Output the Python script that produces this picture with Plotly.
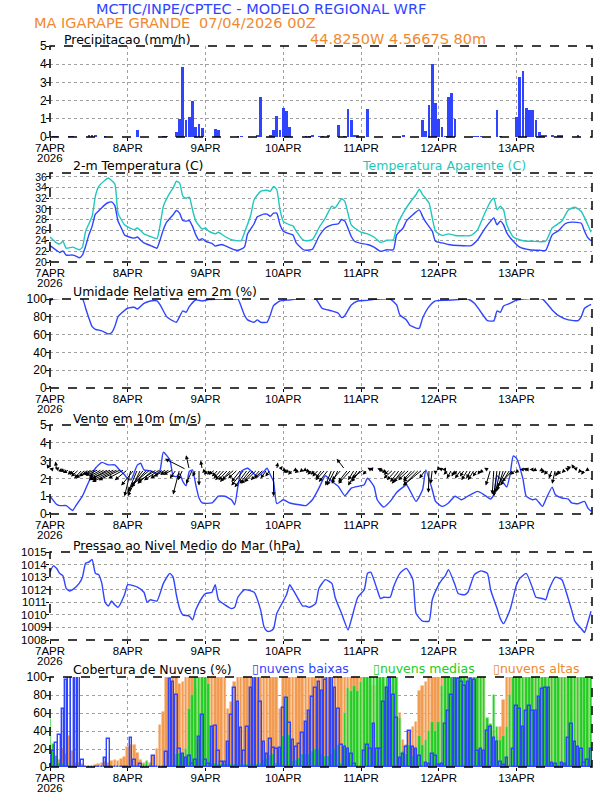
import plotly.graph_objects as go

# ---------------- DATA ----------------
day_ticks = [0, 24, 48, 72, 96, 120, 144]
day_labels = ["7APR", "8APR", "9APR", "10APR", "11APR", "12APR", "13APR"]
year_label = "2026"

precip_h = [1, 2, 6, 7, 12, 13, 14, 17, 27, 35, 36, 39, 40, 41, 42, 43, 44, 45, 46, 47, 51, 52, 58, 59, 64, 65, 68, 69, 70,
            71, 72, 73, 74, 79, 80, 81, 83, 84, 86, 89, 91, 92, 93, 94, 95, 98, 109, 115, 116, 117, 118, 119, 120, 121,
            122, 123, 124, 125, 131, 132, 133, 138, 139, 144, 145, 146, 147, 148, 149, 150, 151, 152, 153, 155, 157, 158, 163]
precip_v = [0.03, 0.03, 0.03, 0.03, 0.06, 0.06, 0.06, 0.04, 0.37, 0.03, 0.03, 0.25, 1.0, 3.85, 0.95, 1.1, 2.0, 0.55, 0.7,
            0.5, 0.45, 0.38, 0.03, 0.03, 0.12, 2.2, 0.12, 0.38, 1.15, 0.4, 1.6, 1.45, 0.55, 0.05, 0.05, 0.08, 0.05, 0.05,
            0.06, 0.65, 0.05, 1.55, 0.95, 0.08, 0.08, 1.55, 0.08, 0.95, 0.32, 1.75, 4.0, 1.85, 1.0, 0.55, 0.05, 2.2, 2.4,
            1.0, 0.04, 0.04, 0.04, 1.5, 0.05, 1.1, 3.3, 3.65, 1.6, 1.5, 1.5, 0.95, 0.3, 0.08, 0.06, 0.08, 0.06, 0.06, 0.08]

temp_h = [0, 2, 3, 4, 5, 7, 8, 9, 10, 11, 12, 13, 14, 15, 17, 18, 19, 20, 21, 22, 23, 24, 26, 27, 28, 29, 31, 33, 34, 35,
          36, 38, 39, 40, 41, 42, 43, 44, 45, 46, 47, 48, 50, 51, 53, 55, 57, 58, 60, 61, 63, 64, 66, 67, 68, 69, 70, 71,
          72, 74, 75, 76, 78, 79, 81, 83, 85, 87, 89, 90, 91, 93, 94, 96, 98, 100, 102, 104, 106, 107, 109, 110, 112, 114,
          115, 116, 118, 119, 121, 123, 126, 130, 132, 134, 136, 137, 138, 139, 140, 141, 143, 145, 148, 151, 153, 155,
          157, 159, 161, 164, 165, 166, 167]
temp_v = [23.1, 22.2, 21.8, 22.1, 21.3, 21.3, 21.1, 20.8, 21.3, 23.0, 25.1, 26.7, 29.0, 29.6, 30.8, 31.2, 31.3, 30.6,
          27.7, 26.4, 25.1, 24.8, 24.5, 24.7, 24.1, 23.6, 23.1, 22.6, 24.2, 26.1, 27.5, 28.9, 29.7, 29.2, 27.8, 27.7, 27.8,
          26.7, 25.1, 24.1, 24.4, 23.9, 23.5, 23.0, 23.3, 22.8, 22.3, 22.2, 22.8, 25.3, 27.2, 28.5, 29.0, 29.0, 28.6, 29.2,
          29.2, 27.0, 25.8, 25.3, 25.1, 23.6, 22.4, 22.2, 22.4, 24.8, 26.4, 27.0, 27.2, 28.0, 27.7, 24.8, 23.9, 23.5, 23.3,
          22.8, 22.0, 22.3, 22.3, 25.1, 26.4, 27.7, 28.9, 29.8, 28.6, 27.5, 25.8, 23.9, 23.6, 23.3, 23.1, 23.1, 24.2, 26.1,
          27.7, 28.3, 27.0, 27.7, 27.0, 25.5, 23.9, 22.8, 22.3, 22.2, 22.2, 25.1, 25.9, 27.2, 27.5, 27.3, 25.8, 24.6, 24.0]

tapp_h = [0, 2, 3, 4, 5, 7, 9, 10, 11, 13, 14, 15, 17, 18, 20, 21, 23, 24, 26, 27, 29, 31, 33, 34, 35, 37, 38, 39, 40, 41,
          42, 43, 44, 45, 47, 48, 49, 51, 52, 54, 56, 59, 60, 62, 63, 65, 67, 68, 69, 70, 71, 72, 74, 75, 76, 78, 79, 81,
          83, 85, 87, 88, 90, 91, 93, 96, 98, 100, 102, 104, 106, 107, 109, 111, 113, 114, 115, 117, 118, 119, 121, 123,
          125, 130, 132, 134, 136, 137, 138, 139, 140, 141, 143, 146, 149, 153, 155, 158, 160, 162, 164, 166, 167]
tapp_v = [24.7, 23.6, 23.4, 23.9, 22.6, 22.8, 22.3, 22.8, 25.8, 28.6, 32.4, 34.2, 35.4, 35.8, 34.7, 29.2, 27.0, 26.6,
          26.1, 26.4, 25.3, 24.8, 24.4, 27.0, 30.5, 33.0, 33.9, 35.2, 34.9, 32.4, 32.0, 32.2, 29.8, 27.7, 26.2, 26.4, 25.8,
          25.3, 25.6, 24.8, 24.2, 24.0, 25.5, 28.9, 31.7, 33.3, 33.5, 33.3, 34.2, 33.6, 29.8, 27.7, 27.0, 26.8, 25.8, 24.2,
          24.0, 24.2, 26.4, 28.3, 30.5, 30.2, 31.9, 31.4, 27.0, 25.6, 25.3, 24.7, 23.7, 24.1, 24.2, 26.7, 29.2, 31.1, 32.7,
          33.7, 32.7, 31.1, 28.3, 25.8, 25.0, 25.3, 25.0, 25.0, 26.1, 28.9, 31.4, 32.0, 29.8, 30.5, 29.8, 27.0, 24.7, 24.0,
          23.9, 23.9, 26.4, 27.7, 29.8, 30.3, 29.5, 27.0, 25.6]

rh_h = [0, 1, 10, 11, 13, 14, 16, 18, 19, 20, 21, 22, 24, 26, 27, 29, 31, 33, 34, 36, 38, 39, 41, 42, 43, 45, 47, 49, 52,
        57, 58, 60, 61, 63, 64, 65, 67, 68, 69, 71, 74, 76, 82, 84, 87, 89, 90, 91, 93, 95, 98, 100, 102, 105, 107, 108,
        110, 111, 113, 114, 115, 117, 119, 122, 126, 129, 131, 134, 135, 137, 138, 139, 140, 142, 144, 146, 152, 155, 157,
        160, 163, 164, 165, 167]
rh_v = [97.8, 100, 100, 89.6, 69, 66, 64.2, 60.8, 62, 69, 80.2, 84, 89.6, 90.7, 88.8, 95.1, 97.8, 97.8, 93.3, 80.2, 75.4,
        73.9, 86.6, 85, 91.4, 98.9, 97.8, 99.3, 99.6, 100, 100, 82, 76.5, 73.9, 76.5, 73.9, 73.9, 82, 92.5, 97.8, 98.9, 100,
        100, 89.6, 86.6, 84, 79.1, 81.3, 93.3, 97.8, 98.5, 99.6, 100, 100, 93.3, 82, 76.5, 70.9, 67.2, 67.2, 78.4, 91.4,
        97.8, 98.5, 99.3, 100, 95.1, 80.2, 75.7, 75.4, 86.6, 85, 92.2, 95.1, 98.9, 100, 100, 87.7, 81.3, 76.5, 75.7, 80.2,
        89.6, 94]

wspd_h = [0, 2, 3, 5, 7, 8, 10, 12, 14, 16, 18, 20, 21, 23, 24, 25, 27, 28, 29, 31, 33, 34, 35, 37, 38, 39, 40, 41, 42,
          43, 44, 45, 46, 47, 50, 52, 54, 56, 57, 58, 59, 61, 62, 64, 66, 67, 68, 69, 70, 72, 74, 77, 79, 81, 83, 85, 87,
          89, 91, 93, 95, 97, 98, 100, 101, 103, 105, 107, 109, 110, 111, 113, 115, 116, 118, 119, 121, 123, 125, 127,
          129, 132, 134, 136, 137, 138, 140, 141, 142, 143, 144, 146, 147, 149, 150, 152, 153, 155, 156, 158, 160, 161,
          163, 165, 166, 167]
wspd_v = [1.0, 0.55, 0.47, 0.47, 0.2, 0.47, 1.0, 1.83, 2.57, 2.9, 2.76, 2.76, 2.57, 2.2, 1.98, 1.92, 2.76, 2.85, 2.48,
          2.43, 2.26, 2.48, 3.47, 3.04, 2.15, 2.1, 2.26, 1.83, 1.59, 2.39, 2.48, 1.64, 0.9, 0.62, 0.62, 1.0, 1.0, 0.8, 0.52,
          1.55, 2.39, 2.57, 2.43, 2.1, 2.39, 2.57, 2.2, 1.83, 0.58, 0.8, 0.62, 0.52, 0.47, 0.8, 1.45, 2.15, 1.83, 1.55,
          1.03, 1.45, 1.55, 1.64, 2.01, 1.55, 0.8, 0.39, 0.71, 1.21, 1.51, 1.64, 1.36, 0.71, 1.36, 2.48, 1.36, 0.71, 0.43,
          0.62, 1.0, 0.8, 1.0, 1.27, 1.08, 0.84, 1.08, 2.15, 1.74, 1.51, 2.2, 3.26, 3.13, 1.96, 1.0, 0.8, 0.84, 0.43, 0.8,
          1.51, 1.08, 0.9, 0.84, 0.62, 0.58, 0.71, 0.34, 0.15]

# wind vectors (hourly), drawn from the 2.5 m/s baseline
wind_u = [-1, -1.2, -0.3, -1.5, -1.5, -2, -2, -1.5, -2, -2.5, -2.5, -3, -3, -3, -3.5, -4, -4, -5, -6, -6,
          -7, -8, -7, -5, -4, -2, -4, -3, -4, -5, -5, -6, -5, -6, -5, -4, -4, -3, -3, -2,
          -2, -1.5, -6.5, -1, -2, -1, 0, -0.5, -1, -1.5, -1.5, -2, -2, -2.5, -3, -3, -3.5, -4, -3, -3,
          -4, -4, -3.5, -4, -4, -3, -3, -2, -1.5, 0, 0.3, 0.8, 1, -1, -1.5, -1.5, -1, -1.5, -1, -1,
          -1, -1.5, -1.5, -2, -2, -3, -3, -2, -2.5, -2, -3, -2.5, -3, -4, -2, -3, -3, -4, -1.5, -1,
          -1.5, -0.5, -1, -1.5, -1.5, -2, -3, -3, -3, -3.5, -4, -3.5, -3, -4, -5, -6, -2, -0.2, -0.5, 0,
          -0.3, -1, -1, -1.5, -1.5, -1, -1.5, -2, -1.5, -2, -1.5, -2, -1.5, -1, -1.5, -1, -1.5, -0.5, -1, -1.5,
          -2, -3, -3, -3.5, -2, -1.5, -1, -1, -1.5, -1, -1, -0.5, -1, -1.5, -1.5, -1, -1, -1, -1.5, -1,
          -1, -1.5, -1, -1.5, -1, -1, -0.8, -0.5]
wind_v = [0.3, 0.05, 0.45, 0.1, -0.1, -0.1, -0.2, -0.3, -0.3, -0.4, -0.5, -0.5, -0.4, -0.3, -0.3, -0.35, -0.4, -0.5, -0.6, -0.5,
          -0.6, -0.7, -0.6, -0.5, -0.6, -1.5, -0.9, -1.3, -1.5, -1.2, -1.0, -0.9, -0.8, -0.7, -0.6, -0.5, -0.4, -0.3, -0.3, -0.5,
          -1.4, -0.6, 0.6, 0.8, -0.8, -0.4, -0.9, 0.5, -0.2, -0.3, -0.3, -0.3, -0.4, -0.5, -0.6, -0.6, -0.7, -0.6, -0.5, -0.7,
          -0.9, -1.0, -0.8, -0.8, -0.7, -0.6, -0.5, -0.5, -0.4, -1.5, 0.4, 0.2, -0.1, -0.2, -0.2, -0.3, -0.1, -0.2, -0.15, -0.1,
          -0.2, -0.3, -0.3, -0.4, -0.5, -0.6, -0.7, -0.9, -0.9, -0.8, -0.6, 0.6, -0.7, -0.8, -0.6, -0.9, -0.7, -0.5, -0.3, 0.1,
          0.05, 0.1, 0.05, -0.1, -0.2, -0.3, -0.5, -0.6, -0.7, -0.8, -0.7, -0.6, -0.6, -0.7, -0.9, -0.9, -0.5, -1.3, -0.8, -0.3,
          0.2, 0.1, 0, -0.3, -0.5, -0.4, -0.3, -0.5, -0.4, -0.6, -0.5, -0.6, -0.4, -0.3, -0.2, 0.1, -0.9, -1.4, -1.5, -1.3,
          -1.2, -1.0, -0.9, -0.7, -0.3, -0.2, 0, 0.05, 0, 0, -0.1, 0, -0.1, -0.2, -0.3, -0.5, -0.8, -0.4, -0.3, -0.2,
          0.1, 0.2, 0.3, 0.1, -0.2, -0.3, -0.1, 0]

pres_h = [0, 1, 2, 3, 4, 5, 6, 7, 9, 10, 11, 12, 13, 14, 15, 16, 17, 18, 19, 20, 21, 23, 24, 26, 27, 29, 30, 31, 33, 35,
          37, 38, 39, 40, 41, 43, 44, 45, 47, 48, 50, 51, 52, 54, 56, 57, 58, 60, 63, 65, 66, 67, 68, 69, 70, 73, 74, 75,
          77, 78, 79, 80, 82, 83, 85, 87, 88, 90, 92, 93, 95, 97, 98, 99, 101, 102, 103, 105, 106, 108, 110, 112, 113, 115,
          117, 118, 120, 121, 122, 123, 125, 126, 128, 129, 131, 133, 135, 136, 138, 139, 140, 142, 144, 145, 147, 149,
          150, 152, 153, 154, 156, 158, 159, 161, 162, 164, 165, 166, 167]
pres_v = [1013.4, 1013.9, 1013.7, 1013.3, 1013.1, 1012.1, 1011.9, 1012.0, 1012.5, 1013.0, 1014.1, 1014.2, 1014.4, 1013.3,
          1013.2, 1012.5, 1011.0, 1010.7, 1011.1, 1010.8, 1010.6, 1011.6, 1012.4, 1012.3, 1012.2, 1011.8, 1011.0, 1011.2,
          1011.1, 1012.5, 1013.3, 1013.0, 1011.6, 1010.5, 1010.0, 1009.9, 1009.6, 1010.4, 1011.4, 1011.7, 1011.8, 1012.4,
          1011.2, 1010.8, 1010.5, 1010.6, 1011.4, 1012.0, 1011.8, 1010.4, 1009.1, 1008.7, 1008.7, 1008.9, 1010.1, 1011.6,
          1012.4, 1012.0, 1011.1, 1010.7, 1010.7, 1010.6, 1010.9, 1012.1, 1012.8, 1012.5, 1011.4, 1010.1, 1008.8, 1009.6,
          1011.4, 1012.0, 1013.3, 1013.4, 1012.0, 1011.3, 1011.4, 1011.4, 1012.2, 1013.3, 1013.7, 1012.8, 1010.1, 1009.5,
          1009.5, 1011.2, 1012.4, 1012.8, 1013.1, 1013.6, 1012.4, 1011.7, 1011.6, 1011.8, 1013.2, 1013.5, 1013.3, 1012.0,
          1010.5, 1009.7, 1009.3, 1010.4, 1012.4, 1012.9, 1013.3, 1012.1, 1011.4, 1011.3, 1011.2, 1012.0, 1013.0, 1012.8,
          1012.1, 1010.4, 1009.5, 1008.9, 1008.6, 1009.4, 1010.3]

cloud_low = [12, 18, 27, 36, 64, 97, 100, 100, 100, 100, 8, 0, 0, 0, 0, 0, 0, 10, 31, 0,
             0, 0, 0, 0, 0, 32, 8, 0, 3, 0, 0, 0, 12, 0, 0, 0, 17, 98, 94, 80,
             20, 15, 10, 12, 3, 8, 33, 58, 8, 3, 45, 46, 18, 6, 6, 28, 58, 88, 72, 43,
             18, 45, 88, 100, 100, 72, 28, 15, 31, 21, 20, 21, 66, 77, 49, 30, 22, 26, 38, 50,
             62, 78, 88, 95, 85, 97, 100, 100, 88, 65, 25, 22, 20, 15, 3, 0, 0, 18, 25, 20,
             48, 20, 20, 72, 88, 100, 80, 55, 10, 15, 22, 40, 22, 20, 12, 0, 5, 3, 15, 12,
             2, 3, 48, 62, 80, 100, 98, 95, 90, 95, 98, 97, 18, 20, 18, 40, 45, 32, 28, 6,
             2, 10, 0, 20, 68, 65, 45, 62, 68, 62, 62, 78, 87, 88, 88, 5, 3, 0, 5, 3,
             32, 48, 28, 22, 20, 5, 8, 20]
cloud_mid = [53, 26, 12, 5, 3, 2, 2, 0, 0, 0, 0, 0, 0, 0, 0, 0, 0, 0, 0, 0,
             0, 0, 0, 0, 0, 0, 0, 0, 0, 3, 7, 2, 0, 0, 0, 0, 0, 0, 2, 15,
             16, 15, 20, 65, 80, 100, 100, 100, 100, 92, 5, 4, 3, 3, 3, 3, 3, 3, 3, 3,
             3, 3, 3, 3, 3, 5, 8, 10, 13, 15, 4, 5, 35, 77, 36, 7, 8, 10, 15, 15,
             15, 18, 20, 20, 15, 12, 12, 15, 20, 25, 5, 60, 88, 85, 90, 85, 95, 100, 100, 100,
             100, 100, 100, 100, 100, 100, 100, 100, 55, 18, 15, 25, 12, 20, 35, 25, 30, 40, 50, 40,
             50, 90, 100, 100, 100, 100, 100, 100, 100, 100, 100, 100, 100, 100, 100, 55, 48, 80, 45, 30,
             35, 45, 80, 100, 100, 100, 100, 100, 100, 100, 100, 100, 100, 100, 100, 100, 100, 100, 100, 100,
             100, 100, 100, 100, 100, 100, 100, 100]
cloud_high = [5, 10, 8, 8, 20, 15, 34, 18, 5, 5, 3, 0, 0, 0, 2, 3, 4, 6, 5, 7,
              8, 7, 9, 11, 22, 25, 25, 16, 8, 4, 4, 5, 12, 20, 47, 61, 100, 100, 100, 100,
              92, 95, 100, 100, 100, 88, 100, 100, 100, 100, 100, 100, 100, 100, 100, 64, 72, 95, 100, 100,
              100, 100, 100, 100, 100, 100, 100, 100, 100, 100, 100, 65, 100, 100, 100, 100, 100, 100, 100, 100,
              100, 100, 100, 100, 100, 100, 100, 100, 100, 100, 100, 100, 100, 100, 100, 100, 100, 100, 90, 90,
              90, 90, 90, 90, 90, 90, 90, 80, 60, 30, 25, 40, 45, 50, 85, 90, 95, 100, 100, 100,
              100, 100, 100, 100, 100, 100, 100, 100, 100, 100, 100, 100, 100, 100, 100, 45, 40, 40, 35, 45,
              75, 100, 100, 100, 100, 100, 100, 100, 100, 100, 100, 100, 100, 100, 100, 100, 100, 100, 100, 100,
              100, 100, 100, 100, 100, 100, 100, 100]
hours = list(range(168))

# ---------------- STYLE ----------------
BLUE = "#2e44ff"
CYAN = "#1ec8be"
ORANGE = "#f08a30"
GREEN = "#22cc22"
W, H = 612, 792
X0, X1 = 50, 592
panels = [(46, 137), (173, 262), (299, 388), (425, 514), (552, 640), (677, 767)]
yranges = [[0, 5], [20, 36.75], [0, 100], [0, 5], [1008, 1015], [0, 100]]
ytickvals = [list(range(0, 6)), list(range(20, 37, 2)), list(range(0, 101, 20)), list(range(0, 6)),
             list(range(1008, 1016)), list(range(0, 101, 20))]
ytick_sizes = [12, 10.5, 12, 12, 11.5, 12]
LINE = dict(width=1.4, shape="spline", smoothing=0.5)
XTICKFONT = dict(family="Liberation Sans", size=11.5, color="black")

fig = go.Figure()


def ax(i):
    return ("x" if i == 1 else f"x{i}"), ("y" if i == 1 else f"y{i}")


# panel 1: precipitation
fig.add_trace(go.Bar(x=precip_h, y=precip_v, width=0.85, marker=dict(color=BLUE, line=dict(width=0)),
                     xaxis="x", yaxis="y"))
# panel 2: temperatures
fig.add_trace(go.Scatter(x=tapp_h, y=tapp_v, mode="lines", line=dict(color=CYAN, **LINE), xaxis="x2", yaxis="y2"))
fig.add_trace(go.Scatter(x=temp_h, y=temp_v, mode="lines", line=dict(color=BLUE, **LINE), xaxis="x2", yaxis="y2"))
# panel 3: RH
fig.add_trace(go.Scatter(x=rh_h, y=rh_v, mode="lines", line=dict(color=BLUE, **LINE), xaxis="x3", yaxis="y3"))
# panel 4: wind speed
fig.add_trace(go.Scatter(x=wspd_h, y=wspd_v, mode="lines", line=dict(color=BLUE, **LINE), xaxis="x4", yaxis="y4"))
# panel 5: pressure
fig.add_trace(go.Scatter(x=pres_h, y=pres_v, mode="lines", line=dict(color=BLUE, **LINE), xaxis="x5", yaxis="y5"))
# panel 6: clouds
fig.add_trace(go.Bar(x=hours, y=cloud_high, width=0.8, marker=dict(color="#f29a50", line=dict(color="#f6b57a", width=0.6)),
                     xaxis="x6", yaxis="y6"))
fig.add_trace(go.Bar(x=hours, y=cloud_mid, width=0.8, marker=dict(color=GREEN, line=dict(color="#8ee88e", width=0.6)),
                     xaxis="x6", yaxis="y6"))
fig.add_trace(go.Bar(x=hours, y=cloud_low, width=0.8, marker=dict(color="rgba(0,0,0,0)", line=dict(color=BLUE, width=1.4)),
                     xaxis="x6", yaxis="y6"))

layout = dict(width=W, height=H, margin=dict(l=0, r=0, t=0, b=0, autoexpand=False), paper_bgcolor="white",
              plot_bgcolor="white", showlegend=False, barmode="overlay", bargap=0)
shapes = []
ann = []
for i, (top, bot) in enumerate(panels, start=1):
    xn, yn = ax(i)
    xkey = "xaxis" if i == 1 else f"xaxis{i}"
    ykey = "yaxis" if i == 1 else f"yaxis{i}"
    layout[xkey] = dict(domain=[X0 / W, X1 / W], anchor=yn, range=[0, 167.3], tickvals=day_ticks, ticktext=day_labels,
                        automargin=False, ticklabelstandoff=-3,
                        showgrid=True, gridcolor="#a0a0a0", griddash="dot", gridwidth=1, zeroline=False,
                        ticks="outside", ticklen=3, tickcolor="black", tickfont=XTICKFONT)
    layout[ykey] = dict(domain=[1 - bot / H, 1 - top / H], anchor=xn, range=yranges[i - 1], tickvals=ytickvals[i - 1],
                        automargin=False, ticklabelstandoff=-3,
                        showgrid=True, gridcolor="#a0a0a0", griddash="dot", gridwidth=1, zeroline=False,
                        ticks="outside", ticklen=3, tickcolor="black",
                        tickfont=dict(family="Liberation Sans", size=ytick_sizes[i - 1], color="black"))
    shapes.append(dict(type="rect", xref=f"{xn} domain", yref=f"{yn} domain", x0=0, x1=1, y0=0, y1=1,
                       line=dict(color="black", width=1.5, dash="dash")))
    ann.append(dict(text=year_label, x=day_ticks[0], xref=xn, y=1 - (bot + 21) / H, yref="paper", xanchor="center",
                    yanchor="middle", showarrow=False, font=XTICKFONT))
layout["shapes"] = shapes


def txt(s, xpx, ypx, color="black", size=12.5, anchor="left"):
    ann.append(dict(text=s, x=xpx / W, y=1 - ypx / H, xref="paper", yref="paper", xanchor=anchor, yanchor="middle",
                    showarrow=False, font=dict(family="DejaVu Sans", size=size, color=color)))


txt("MCTIC/INPE/CPTEC - MODELO REGIONAL WRF", 261, 9, BLUE, 14.5, "center")
txt("MA IGARAPE GRANDE", 32, 23, ORANGE, 14.5)
txt("07/04/2026 00Z", 197, 23, ORANGE, 14.5)
txt("44.8250W 4.5667S 80m", 308, 39, ORANGE, 14.5)
txt("Precipitacao (mm/h)", 62, 40)
txt("2-m Temperatura (C)", 71, 165)
txt("Temperatura Aparente (C)", 360, 166, CYAN)
txt("Umidade Relativa em 2m (%)", 71, 291)
txt("Vento em 10m (m/s)", 71, 418)
txt("Pressao ao Nivel Medio do Mar (hPa)", 71, 545)
txt("Cobertura de Nuvens (%)", 71, 669)
txt("▯nuvens baixas", 250, 668, BLUE)
txt("▯nuvens medias", 371, 668, GREEN)
txt("▯nuvens altas", 491, 668, ORANGE)

for i in range(168):
    ann.append(dict(x=i + wind_u[i], y=2.5 + wind_v[i], ax=i, ay=2.5, xref="x4", yref="y4", axref="x4", ayref="y4",
                    text="", showarrow=True, arrowhead=2, arrowsize=0.8, arrowwidth=1, arrowcolor="black"))
layout["annotations"] = ann
fig.update_layout(**layout)
fig.write_html("out.html", config={"displayModeBar": False},
               post_script="document.body.style.margin='0px';document.body.style.overflow='hidden';")
